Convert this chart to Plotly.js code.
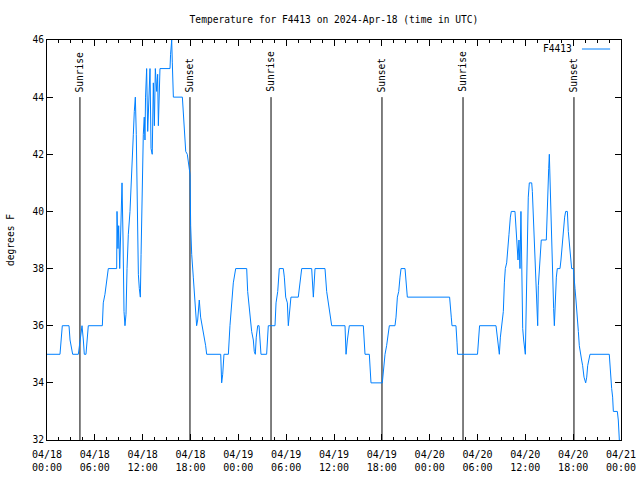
<!DOCTYPE html>
<html>
<head>
<meta charset="utf-8">
<script src="https://cdn.plot.ly/plotly-3.0.1.min.js"></script>
<style>html,body{margin:0;padding:0;background:#fff;}#chart{width:640px;height:480px;}</style>
</head>
<body>
<div id="chart"></div>
<script>
// Hours after 2024-04-18 00:00 UTC
const hours = [
  0.0, 1.63, 1.92, 2.76, 2.89, 3.22, 3.93, 4.05, 4.22, 4.39, 4.56, 4.68, 4.89, 5.0, 5.18,
  6.94, 7.06, 7.27, 7.44, 7.69, 8.74, 8.78, 8.9, 8.99, 9.12, 9.28, 9.41, 9.54, 9.66, 9.78,
  9.91, 10.04, 10.2, 10.41, 10.58, 10.7, 10.83, 10.95, 11.08, 11.2, 11.33, 11.46, 11.58, 11.71,
  11.8, 11.88, 12.0, 12.08, 12.2, 12.29, 12.36, 12.5, 12.63, 12.75, 12.92, 13.05, 13.2, 13.34,
  13.47, 13.59, 13.76, 13.88, 13.97, 14.17, 15.43, 15.5, 15.64, 15.72, 15.85, 16.98, 17.1,
  17.23, 17.4, 17.6, 17.8, 17.94, 18.02, 18.15, 18.35, 18.56, 18.77, 18.9, 19.1, 19.27, 19.48,
  19.73, 19.9, 20.03, 21.79, 21.91, 22.04, 22.2, 22.75, 22.95, 23.16, 23.37, 23.67,
  25.05, 25.17, 25.38, 25.55, 25.67, 25.88, 26.0, 26.13, 26.25, 26.43, 26.6, 26.72, 26.84,
  27.55, 27.76, 28.6, 28.73, 28.94, 29.14, 29.64, 29.77, 29.94, 30.15, 30.27, 30.48, 30.6,
  31.52, 31.73, 31.95, 33.2, 33.41, 33.62, 34.87, 35.08, 35.29, 35.5, 35.71,
  37.38, 37.51, 37.68, 37.92, 39.68, 39.8, 39.89, 40.43, 40.51, 40.64, 42.06, 42.19, 42.4,
  42.6, 42.81, 42.94, 43.65, 43.78, 43.95, 44.12, 44.28, 44.41, 44.91, 45.2,
  50.5, 50.63, 50.71, 50.8, 51.3, 51.43, 51.5, 54.0, 54.13, 54.26, 56.32, 56.49, 56.61, 56.74,
  56.87, 57.03, 57.24, 57.37, 57.49, 57.66, 57.78, 57.95, 58.12, 58.24, 58.7, 58.83, 58.95,
  59.08, 59.2, 59.33, 59.45, 59.55, 59.67, 59.79, 59.92, 60.0, 60.08, 60.16, 60.25, 60.37,
  60.5, 60.8, 60.88, 61.0, 61.13, 61.3, 61.42, 61.55, 61.63, 61.76, 61.88, 62.0, 62.63, 62.76,
  62.93, 63.01, 63.14, 63.3, 63.43, 63.55, 63.64, 63.76, 63.89, 64.01, 64.35, 64.47, 64.64,
  64.76, 64.93, 65.06, 65.27, 65.39, 65.52, 65.64, 65.81, 66.02, 66.14, 66.23, 66.35, 66.52,
  66.65, 66.77, 66.9, 67.06, 67.19, 67.36, 67.57, 67.7, 67.82, 67.99, 68.11, 70.53, 70.7,
  70.83, 70.95, 71.04, 71.54, 71.66, 71.79
];
const temps = [
  35, 35, 36, 36, 35.5, 35, 35, 35.3, 35.8, 36, 35.5, 35, 35, 35.5, 36,
  36, 36.8, 37.1, 37.4, 38, 38, 40, 38.7, 39.5, 38, 40.2, 41, 39, 36.5, 36,
  36.4, 38, 39.2, 40, 40.9, 41.7, 42.7, 43.5, 44, 42.7, 39.5, 37.8, 37.3, 37,
  38.5, 40, 41.5, 42.7, 43.3, 42.5, 44, 45, 42.8, 44, 45, 42.2, 42, 44.5,
  43, 45, 44.2, 44.8, 43, 45, 45, 45.5, 46, 45.2, 44, 44, 43.3,
  42.7, 42.1, 42, 41.6, 41.3, 39.5, 38.5, 37.7, 36.8, 36, 36.2, 36.9, 36.3, 36,
  35.6, 35.3, 35, 35, 34, 34.3, 35, 35, 36, 36.8, 37.5, 38,
  38, 37.2, 36.5, 36.2, 35.8, 35.5, 35.1, 35, 35.6, 36, 36, 35.5, 35,
  35, 36, 36, 36.8, 37.2, 38, 38, 37.7, 37, 36.8, 36, 36.8, 37,
  37, 37.5, 38, 38, 37, 38, 38, 37.2, 36.8, 36.3, 36,
  36, 35, 35.5, 36, 36, 35.3, 35, 35, 34.7, 34, 34, 34.5, 35,
  35.3, 35.7, 36, 36, 36.3, 37, 37.2, 37.7, 38, 38, 37,
  37, 36.7, 36.3, 36, 36, 35.4, 35, 35, 35.6, 36, 36, 35.6, 35.1, 35,
  35.6, 36, 36.5, 37.5, 38, 38.2, 38.8, 39.2, 39.8, 40, 40, 39.4, 38.8,
  38.3, 39, 38, 40, 38, 35.9, 35.5, 35.2, 35, 36.2, 37.6, 39.3, 40.5,
  41, 41, 40.7, 39.9, 38.5, 37.5, 36.6, 36, 37.4, 38, 38.6, 39, 39, 40.5,
  41.5, 42, 40.5, 39.2, 37.7, 36.6, 36, 37, 37.7, 38, 38, 38.3, 38.9,
  39.3, 39.8, 40, 40, 39.3, 38.8, 38.3, 38, 38, 37.7, 37.3, 36.9, 36.4,
  35.8, 35.3, 35, 34.8, 34.6, 34.2, 34, 34.2, 34.6, 34.8, 35, 35, 34.2,
  33.8, 33.5, 33, 33, 32.7, 32
];
const seriesName = 'F4413';
const sunTimes = ['2024-04-18 04:08', '2024-04-18 17:56', '2024-04-19 04:06', '2024-04-19 18:01', '2024-04-20 04:11', '2024-04-20 18:06'];
const sunLabels = ['Sunrise', 'Sunset', 'Sunrise', 'Sunset', 'Sunrise', 'Sunset'];
const sunLineTop = 44;
const yMin = 32, yMax = 46;
const xStart = '2024-04-18 00:00', xEnd = '2024-04-21 00:00';
const titleText = 'Temperature for F4413 on 2024-Apr-18 (time in UTC)';
const yTitle = 'degrees F';

const base = Date.UTC(2024, 3, 18, 0, 0, 0);
const xs = hours.map(h => base + h * 3600e3);

const FONT = {family: 'DejaVu Sans Mono, monospace', size: 9.6, color: '#000'};
const XFONT = {family: 'DejaVu Sans Mono, monospace', size: 10, color: '#000'};

const sunX = [], sunY = [];
sunTimes.forEach(t => { sunX.push(t, t, null); sunY.push(yMin, sunLineTop, null); });

const traces = [
  {x: sunX, y: sunY, type: 'scatter', mode: 'lines', line: {color: '#000', width: 1}, showlegend: false, hoverinfo: 'skip'},
  {x: xs, y: temps, type: 'scatter', mode: 'lines', name: seriesName, line: {color: '#0080ff', width: 1}, showlegend: false}
];

const annotations = sunTimes.map((t, i) => ({
  x: t, y: sunLineTop, xref: 'x', yref: 'y', text: sunLabels[i], textangle: -90,
  showarrow: false, xanchor: 'center', yanchor: 'bottom', yshift: 3, font: FONT
}));
annotations.push({x: 0.918, y: 0.9775, xref: 'paper', yref: 'paper', text: seriesName,
  showarrow: false, xanchor: 'right', yanchor: 'middle', font: FONT});

const layout = {
  width: 640, height: 480,
  margin: {l: 47, r: 19, t: 40, b: 40, pad: 0},
  paper_bgcolor: '#fff', plot_bgcolor: '#fff',
  font: FONT,
  showlegend: false,
  title: {text: titleText, x: 0.5, xref: 'paper', xanchor: 'center', y: 1 - 20 / 480, yref: 'container', yanchor: 'middle', font: FONT},
  xaxis: {
    type: 'date', range: [xStart, xEnd], tick0: xStart, dtick: 6 * 3600e3,
    tickformat: '%m/%d<br>%H:%M', showgrid: false, zeroline: false,
    showline: true, linecolor: '#000', linewidth: 1, mirror: 'ticks',
    ticks: 'inside', ticklen: 6, tickcolor: '#000', tickwidth: 1, tickfont: XFONT,
    ticklabelstandoff: 5,
    minor: {dtick: 1.5 * 3600e3, tick0: xStart, ticks: 'inside', ticklen: 3, tickcolor: '#000', showgrid: false},
    fixedrange: true
  },
  yaxis: {
    range: [yMin, yMax], dtick: 2, tick0: 32, showgrid: false, zeroline: false,
    showline: true, linecolor: '#000', linewidth: 1, mirror: 'ticks',
    ticks: 'inside', ticklen: 6, tickcolor: '#000', tickwidth: 1, tickfont: FONT,
    title: {text: yTitle, font: FONT, standoff: 16},
    fixedrange: true
  },
  shapes: [
    {type: 'line', xref: 'paper', yref: 'paper', x0: 0.932, x1: 0.981, y0: 0.9775, y1: 0.9775, line: {color: '#0080ff', width: 1}}
  ],
  annotations: annotations
};

Plotly.newPlot('chart', traces, layout, {displayModeBar: false, staticPlot: true});
</script>
</body>
</html>
